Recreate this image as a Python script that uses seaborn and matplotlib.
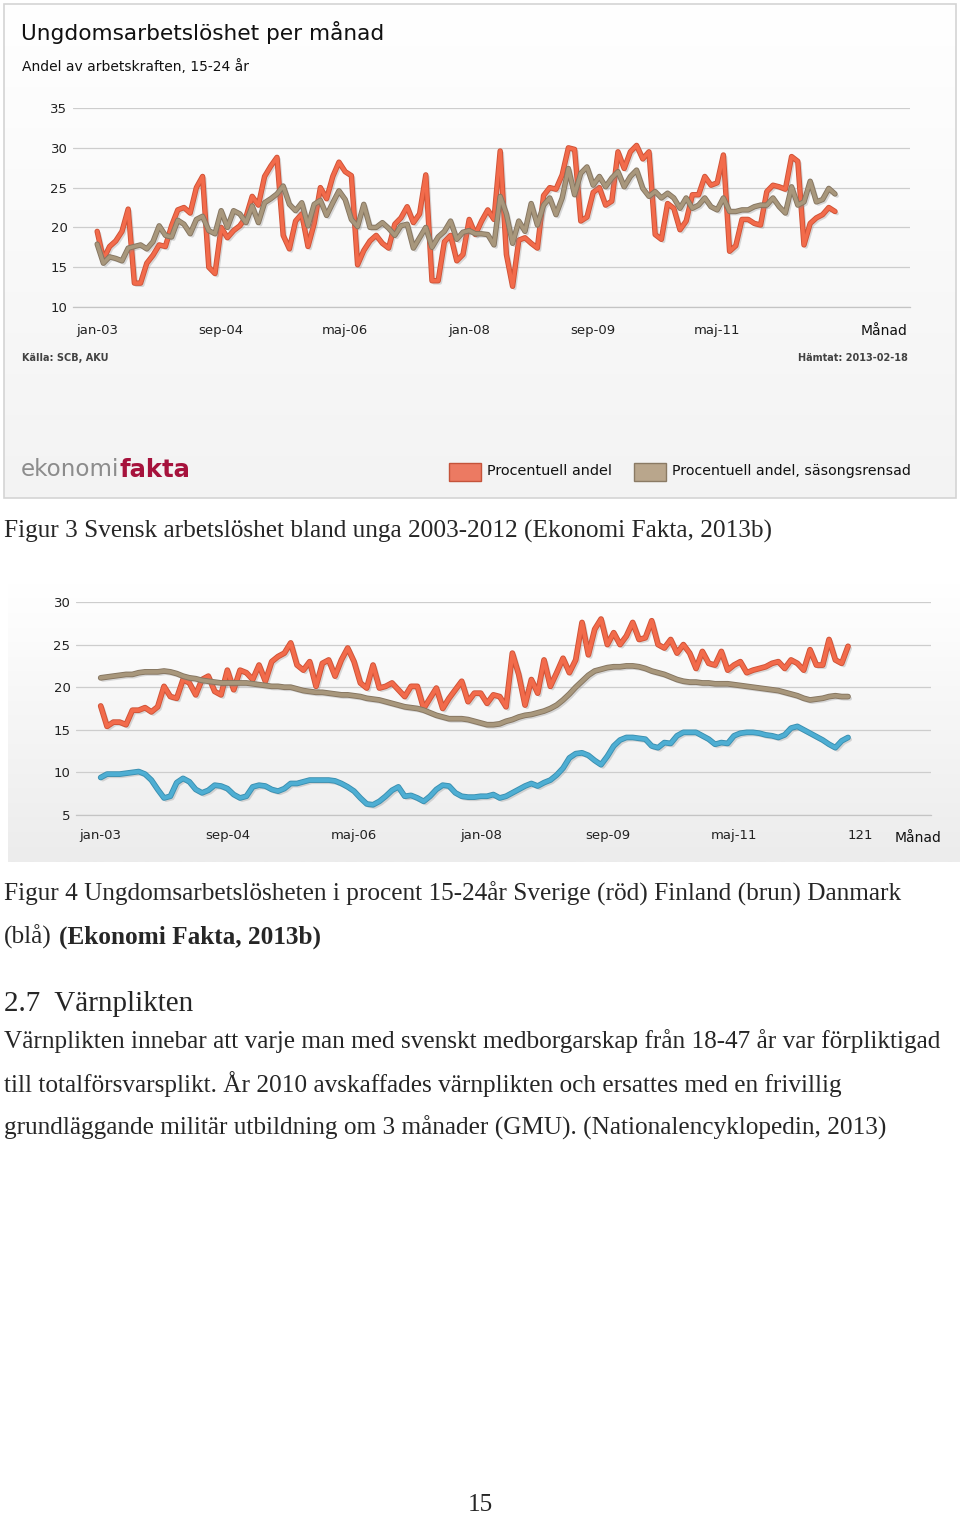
import matplotlib
matplotlib.use('Agg')
import matplotlib.pyplot as plt
import matplotlib.patheffects as pe
from matplotlib.colors import LinearSegmentedColormap
from matplotlib.patches import Rectangle
import numpy as np
import seaborn as sns

# ---- data ----
# Figur 3: Sweden 15-24, monthly jan-03 .. dec-12
procentuell = [19.5, 16.0, 17.6, 18.3, 19.5, 22.3, 13.0, 13.0, 15.5, 16.5,
               17.8, 17.6, 20.2, 22.2, 22.5, 21.8, 25.0, 26.4, 15.0, 14.2,
               20.0, 18.7, 19.6, 20.2, 21.3, 23.9, 22.8, 26.4, 27.7, 28.8,
               19.0, 17.3, 20.8, 21.7, 17.6, 20.5, 25.0, 23.6, 26.4, 28.2,
               27.0, 26.5, 15.3, 17.1, 18.3, 19.0, 18.0, 17.4, 20.4, 21.2,
               22.6, 20.6, 21.7, 26.6, 13.3, 13.3, 18.2, 19.0, 15.8, 16.6,
               21.0, 19.1, 20.8, 22.2, 21.0, 29.6, 16.6, 12.6, 18.4, 18.7,
               18.0, 17.4, 24.0, 25.0, 24.8, 26.6, 30.0, 29.8, 20.8, 21.3,
               24.4, 25.0, 22.8, 23.3, 29.5, 27.4, 29.5, 30.3, 28.6, 29.5,
               19.1, 18.5, 23.0, 22.4, 19.7, 20.8, 24.1, 24.1, 26.4, 25.3,
               25.6, 29.1, 17.0, 17.7, 21.0, 21.0, 20.5, 20.3, 24.5, 25.3,
               25.1, 24.8, 28.9, 28.3, 17.8, 20.5, 21.2, 21.6, 22.5, 22.0]
sasongsrensad = [17.9, 15.5, 16.3, 16.1, 15.8, 17.4, 17.6, 17.8, 17.3, 18.2,
                 20.2, 19.0, 18.8, 20.9, 20.4, 19.2, 21.0, 21.4, 19.6, 19.2,
                 22.1, 20.0, 22.1, 21.7, 20.6, 22.7, 20.6, 23.1, 23.6, 24.2,
                 25.2, 22.9, 22.1, 23.1, 20.2, 22.9, 23.4, 21.5, 23.1, 24.6,
                 23.5, 21.0, 20.1, 22.9, 20.0, 20.0, 20.6, 19.9, 19.0, 20.2,
                 20.4, 17.4, 18.7, 20.0, 17.5, 18.8, 19.5, 20.8, 18.5, 19.4,
                 19.6, 19.2, 19.2, 19.1, 17.8, 23.9, 21.7, 18.0, 20.8, 19.5,
                 23.0, 20.3, 22.8, 23.7, 21.6, 23.7, 27.4, 24.1, 26.8, 27.6,
                 25.3, 26.4, 25.1, 26.2, 27.0, 25.1, 26.4, 27.2, 24.9, 23.9,
                 24.5, 23.7, 24.3, 23.7, 22.4, 23.7, 22.4, 22.8, 23.7, 22.6,
                 22.2, 23.7, 22.0, 22.0, 22.2, 22.2, 22.6, 22.8, 22.8, 23.7,
                 22.6, 21.8, 25.1, 22.8, 23.2, 25.8, 23.2, 23.5, 24.9, 24.2]

# Figur 4: Sverige (röd), Finland (brun), Danmark (blå)
sverige = [17.8, 15.4, 15.9, 15.9, 15.6, 17.3, 17.3, 17.6, 17.1, 17.7,
           20.1, 18.9, 18.7, 20.9, 20.5, 19.1, 20.9, 21.3, 19.5, 19.1,
           22.0, 19.7, 22.0, 21.7, 20.9, 22.6, 20.7, 23.0, 23.6, 24.0,
           25.2, 22.6, 22.0, 23.0, 20.1, 22.8, 23.2, 21.3, 23.2, 24.6,
           23.0, 20.5, 19.9, 22.6, 19.9, 20.1, 20.5, 19.7, 18.9, 20.1,
           20.1, 17.5, 18.7, 19.9, 17.5, 18.7, 19.7, 20.7, 18.3, 19.3,
           19.3, 18.1, 19.1, 18.9, 17.7, 24.0, 21.5, 17.9, 20.9, 19.3,
           23.2, 20.1, 21.7, 23.4, 21.7, 23.2, 27.6, 23.8, 26.8, 28.0,
           25.0, 26.4, 25.0, 26.0, 27.6, 25.6, 25.8, 27.8, 25.0, 24.6,
           25.6, 24.0, 25.0, 24.0, 22.2, 24.2, 22.8, 22.6, 24.2, 22.0,
           22.6, 23.0, 21.7, 22.0, 22.2, 22.4, 22.8, 23.0, 22.2, 23.2,
           22.8, 22.0, 24.4, 22.6, 22.6, 25.6, 23.2, 22.8, 24.8]
finland = [21.1, 21.2, 21.3, 21.4, 21.5, 21.5, 21.7, 21.8, 21.8, 21.8,
           21.9, 21.8, 21.6, 21.3, 21.1, 21.0, 20.8, 20.7, 20.6, 20.5,
           20.5, 20.5, 20.5, 20.5, 20.4, 20.3, 20.2, 20.1, 20.1, 20.0,
           20.0, 19.8, 19.6, 19.5, 19.4, 19.4, 19.3, 19.2, 19.1, 19.1,
           19.0, 18.9, 18.7, 18.6, 18.5, 18.3, 18.1, 17.9, 17.7, 17.6,
           17.5, 17.3, 17.0, 16.7, 16.5, 16.3, 16.3, 16.3, 16.2, 16.0,
           15.8, 15.6, 15.6, 15.7, 16.0, 16.2, 16.5, 16.7, 16.8, 17.0,
           17.2, 17.5, 17.9, 18.5, 19.2, 20.0, 20.7, 21.4, 21.9, 22.1,
           22.3, 22.4, 22.4, 22.5, 22.5, 22.4, 22.2, 21.9, 21.7, 21.5,
           21.2, 20.9, 20.7, 20.6, 20.6, 20.5, 20.5, 20.4, 20.4, 20.4,
           20.3, 20.2, 20.1, 20.0, 19.9, 19.8, 19.7, 19.6, 19.4, 19.2,
           19.0, 18.7, 18.5, 18.6, 18.7, 18.9, 19.0, 18.9, 18.9]
danmark = [9.4, 9.8, 9.8, 9.8, 9.9, 10.0, 10.1, 9.8, 9.1, 8.0,
           7.0, 7.2, 8.8, 9.3, 8.9, 8.0, 7.6, 7.9, 8.5, 8.4,
           8.1, 7.4, 7.0, 7.2, 8.3, 8.5, 8.4, 8.0, 7.8, 8.1,
           8.7, 8.7, 8.9, 9.1, 9.1, 9.1, 9.1, 9.0, 8.7, 8.3,
           7.8, 7.0, 6.3, 6.2, 6.6, 7.2, 7.9, 8.3, 7.2, 7.3,
           7.0, 6.6, 7.2, 8.0, 8.5, 8.4, 7.6, 7.2, 7.1, 7.1,
           7.2, 7.2, 7.4, 7.0, 7.2, 7.6, 8.0, 8.4, 8.7, 8.4,
           8.8, 9.1, 9.7, 10.5, 11.7, 12.2, 12.3, 12.0, 11.4, 10.9,
           11.9, 13.1, 13.8, 14.1, 14.1, 14.0, 13.9, 13.1, 12.9, 13.5,
           13.4, 14.3, 14.7, 14.7, 14.7, 14.3, 13.9, 13.3, 13.5, 13.4,
           14.3, 14.6, 14.7, 14.7, 14.6, 14.4, 14.3, 14.1, 14.4, 15.2,
           15.4, 15.0, 14.6, 14.2, 13.8, 13.3, 12.9, 13.7, 14.1]

tickPos = [0, 20, 40, 60, 80, 100, 120]
tickLabels1 = ['jan-03', 'sep-04', 'maj-06', 'jan-08', 'sep-09', 'maj-11', '']
tickLabels2 = ['jan-03', 'sep-04', 'maj-06', 'jan-08', 'sep-09', 'maj-11', '121']

W, H = 960, 1517

def fx(x):
    return x / W

def fy(y):
    return 1 - y / H

def box(x0, y0, x1, y1):
    return [fx(x0), fy(y1), (x1 - x0) / W, (y1 - y0) / H]

sns.set_style('white')
plt.rcParams['font.family'] = ['DejaVu Sans']

fig = plt.figure(figsize=(9.6, 15.17), dpi=100)
fig.patch.set_facecolor('white')

def gradient(rect, top, bottom):
    bg = fig.add_axes(rect, zorder=0)
    cmap = LinearSegmentedColormap.from_list('g', [top, bottom])
    bg.imshow(np.linspace(0, 1, 256).reshape(-1, 1), aspect='auto', cmap=cmap,
              extent=[0, 1, 0, 1])
    bg.axis('off')
    return bg

def styleLine(line, edge):
    line.set_path_effects([
        pe.SimpleLineShadow(offset=(1.5, -1.5), shadow_color='#888888', alpha=0.3),
        pe.Stroke(linewidth=line.get_linewidth() + 1.3, foreground=edge),
        pe.Normal()])
    line.set_solid_joinstyle('round')

def styleAxes(ax, yticks, labels, ticklen, pad):
    ax.set_facecolor('none')
    ax.set_xlim(-3.9, 131.1)
    ax.set_ylim(yticks[0], yticks[-1])
    ax.set_yticks(yticks)
    ax.grid(axis='y', color='#cdcdcd', linewidth=0.9)
    ax.grid(axis='x', visible=False)
    ax.set_xticks(tickPos, labels)
    for s in ['top', 'right', 'left']:
        ax.spines[s].set_visible(False)
    ax.spines['bottom'].set_color('#c4c4c4')
    ax.spines['bottom'].set_linewidth(0.9)
    ax.tick_params(axis='x', length=ticklen, width=0.9, direction='inout',
                   color='#c4c4c4', pad=pad, labelsize=9.5, labelcolor='#222222')
    ax.tick_params(axis='y', length=0, pad=4, labelsize=9.5, labelcolor='#222222')
    ax.set_xlabel('')
    ax.set_ylabel('')

# ---- Figur 3 panel ----
gradient(box(4, 4, 956, 498), '#ffffff', '#f3f3f3')
fig.patches.append(Rectangle((fx(4), fy(498)), 952 / W, 494 / H, transform=fig.transFigure,
                             fill=False, edgecolor='#d4d4d4', linewidth=1.2, zorder=5))

fig.text(fx(21), fy(33), 'Ungdomsarbetslöshet per månad', fontsize=15.6, color='#111111',
         va='center', ha='left')
fig.text(fx(22), fy(67), 'Andel av arbetskraften, 15-24 år', fontsize=10, color='#111111',
         va='center', ha='left')

ax1 = fig.add_axes(box(73, 108, 910, 307), zorder=2)
m1 = np.arange(len(procentuell))
sns.lineplot(x=m1, y=procentuell, ax=ax1, color='#f26b4b', linewidth=2.6)
styleLine(ax1.lines[-1], '#cf5236')
sns.lineplot(x=m1, y=sasongsrensad, ax=ax1, color='#a8977c', linewidth=2.6)
styleLine(ax1.lines[-1], '#857560')
styleAxes(ax1, [10, 15, 20, 25, 30, 35], tickLabels1, 8, 8)
fig.text(fx(908), fy(331), 'Månad', fontsize=10, color='#111111', ha='right', va='center')

fig.text(fx(22), fy(358), 'Källa: SCB, AKU', fontsize=7, color='#222222', ha='left',
         va='center', fontweight='bold', alpha=0.85)
fig.text(fx(908), fy(358), 'Hämtat: 2013-02-18', fontsize=7, color='#222222', ha='right',
         va='center', fontweight='bold', alpha=0.85)

fig.text(fx(21), fy(470), 'ekonomi', fontsize=16.6, color='#8c8c8c', ha='left', va='center')
fig.text(fx(120), fy(470), 'fakta', fontsize=17.5, color='#a6123c', ha='left', va='center',
         fontweight='bold')

fig.patches.append(Rectangle((fx(449), fy(481)), 32 / W, 18 / H, transform=fig.transFigure,
                             facecolor='#ec7a62', edgecolor='#c4533a', linewidth=1, zorder=5))
fig.text(fx(487), fy(471), 'Procentuell andel', fontsize=10.4, color='#111111', va='center')
fig.patches.append(Rectangle((fx(634), fy(481)), 32 / W, 18 / H, transform=fig.transFigure,
                             facecolor='#b9a68c', edgecolor='#8a7a64', linewidth=1, zorder=5))
fig.text(fx(672), fy(471), 'Procentuell andel, säsongsrensad', fontsize=10.2, color='#111111',
         va='center')

serif = ['Liberation Serif', 'DejaVu Serif']
fs = 18.2
fig.text(fx(4), fy(531), 'Figur 3 Svensk arbetslöshet bland unga 2003-2012 (Ekonomi Fakta, 2013b)',
         fontsize=fs, family=serif, va='center')

# ---- Figur 4 panel ----
gradient(box(8, 583, 960, 862), '#ffffff', '#ececec')
ax2 = fig.add_axes(box(76, 602, 931, 815), zorder=2)
m2 = np.arange(len(sverige))
sns.lineplot(x=m2, y=sverige, ax=ax2, color='#f26b4b', linewidth=2.8)
styleLine(ax2.lines[-1], '#cf5236')
sns.lineplot(x=m2, y=finland, ax=ax2, color='#a8977c', linewidth=2.8)
styleLine(ax2.lines[-1], '#857560')
sns.lineplot(x=m2, y=danmark, ax=ax2, color='#4eaed3', linewidth=2.8)
styleLine(ax2.lines[-1], '#3a8fb0')
styleAxes(ax2, [5, 10, 15, 20, 25, 30], tickLabels2, 10, 5)
fig.text(fx(942), fy(838), 'Månad', fontsize=10, color='#111111', ha='right', va='center')

fig.text(fx(4), fy(894),
         'Figur 4 Ungdomsarbetslösheten i procent 15-24år Sverige (röd) Finland (brun) Danmark',
         fontsize=fs, family=serif, va='center')
fig.text(fx(4), fy(937), '(blå)', fontsize=fs, family=serif, va='center')
fig.text(fx(59), fy(937), '(Ekonomi Fakta, 2013b)', fontsize=fs, family=serif, va='center',
         fontweight='bold')

fig.text(fx(4), fy(1004), '2.7  Värnplikten', fontsize=21, family=serif, va='center')
body = ['Värnplikten innebar att varje man med svenskt medborgarskap från 18-47 år var förpliktigad',
        'till totalförsvarsplikt. År 2010 avskaffades värnplikten och ersattes med en frivillig',
        'grundläggande militär utbildning om 3 månader (GMU). (Nationalencyklopedin, 2013)']
for row, yy in zip(body, [1041, 1084, 1128]):
    fig.text(fx(4), fy(yy), row, fontsize=fs, family=serif, va='center')

fig.text(fx(480), fy(1505), '15', fontsize=fs, family=serif, va='center', ha='center')

fig.savefig('out.png', dpi=100)
